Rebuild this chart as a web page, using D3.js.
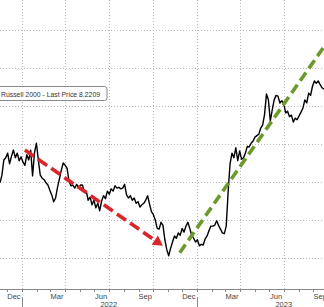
<!DOCTYPE html>
<html><head><meta charset="utf-8">
<script src="https://cdn.jsdelivr.net/npm/d3@7/dist/d3.min.js"></script>
<style>html,body{margin:0;padding:0;background:#fff;overflow:hidden}svg{display:block}</style>
</head><body>
<script>
// ---- data ----
const startDate = "2021-11-16";   // first observation
const stepDays = 4;               // spacing between observations
const values = [
6.99,7.09,7.29,7.32,7.38,7.24,7.34,7.42,7.32,7.38,7.28,7.33,7.26,7.22,7.36,7.29,7.42,7.08,7.39,7.51,
7.29,7.09,7.05,7.03,6.99,6.96,6.89,6.83,6.74,6.79,6.93,7.04,7.16,7.25,7.22,7.18,7.01,6.95,6.96,6.92,
6.97,6.92,6.96,6.96,6.87,6.88,6.76,6.80,6.70,6.76,6.66,6.72,6.62,6.75,6.82,6.78,6.88,6.84,6.91,6.88,
6.95,6.92,6.93,6.91,6.92,6.97,6.83,6.79,6.82,6.76,6.79,6.72,6.74,6.67,6.70,6.72,6.76,6.82,6.71,6.61,
6.57,6.50,6.39,6.38,6.47,6.43,6.24,6.11,6.03,6.13,6.21,6.29,6.26,6.33,6.30,6.39,6.34,6.42,6.47,6.39,
6.30,6.26,6.21,6.24,6.16,6.18,6.17,6.25,6.29,6.36,6.42,6.42,6.43,6.49,6.43,6.38,6.33,6.32,6.42,6.87,
7.24,7.38,7.32,7.45,7.28,7.41,7.30,7.32,7.38,7.47,7.46,7.51,7.54,7.59,7.61,7.63,7.71,7.75,7.89,8.16,
8.08,7.80,7.95,8.08,8.14,8.13,8.04,8.07,8.03,7.91,7.93,7.86,7.88,7.79,7.84,7.82,7.87,7.92,7.97,8.08,
8.04,8.17,8.14,8.26,8.33,8.30,8.33,8.28,8.24,8.2209
];
const yTicks = [6.0,6.5,7.0,7.5,8.0,8.5,9.0];
const monthLabels = ["Dec","Mar","Jun","Sep"];
const seriesName = "Russell 2000 - Last Price 8.2209";
const redArrow = [["2022-01-07",7.42],["2022-10-22",6.16]];
const greenLine = [["2022-11-26",6.07],["2023-09-23",8.78]];

// ---- setup ----
const W = 324, H = 307, axisY = 289;
const parse = d3.utcParse("%Y-%m-%d");
const t0 = parse(startDate);
const data = values.map((v,i)=>({date:d3.utcDay.offset(t0, i*stepDays), value:v}));
const x = d3.scaleUtc().domain([t0, data[data.length-1].date]).range([0, W]);
const y = d3.scaleLinear().domain([5.592, 9.395]).range([axisY, 0]);

const svg = d3.select("body").append("svg").attr("width",W).attr("height",H);
const font = "'Liberation Sans', Arial, sans-serif";

// gridlines
svg.append("g").selectAll("line").data(yTicks).join("line")
  .attr("x1",0).attr("x2",W).attr("y1",d=>Math.round(y(d))+0.5).attr("y2",d=>Math.round(y(d))+0.5)
  .attr("stroke","#b8b8b8").attr("stroke-width",1).attr("stroke-dasharray","1,2");
const quarters = d3.utcMonth.every(3).range(x.domain()[0], x.domain()[1]).filter(d=>d.getUTCMonth()%3===0);
svg.append("g").selectAll("line").data(quarters).join("line")
  .attr("x1",d=>Math.round(x(d))+0.5).attr("x2",d=>Math.round(x(d))+0.5).attr("y1",0).attr("y2",axisY)
  .attr("stroke","#b8b8b8").attr("stroke-width",1).attr("stroke-dasharray","1,2");

// axis
const months = d3.utcMonth.range(x.domain()[0], x.domain()[1]);
const gx = svg.append("g").attr("transform",`translate(0,${axisY})`);
gx.append("line").attr("x1",0).attr("x2",W).attr("y1",0.5).attr("y2",0.5).attr("stroke","#888");
gx.selectAll("line.mt").data(months).join("line").attr("class","mt")
  .attr("x1",d=>Math.round(x(d))+0.5).attr("x2",d=>Math.round(x(d))+0.5).attr("y1",0).attr("y2",3)
  .attr("stroke","#888");
const years = d3.utcYear.range(x.domain()[0], x.domain()[1]);
gx.selectAll("line.yt").data(years).join("line").attr("class","yt")
  .attr("x1",d=>Math.round(x(d))+0.5).attr("x2",d=>Math.round(x(d))+0.5).attr("y1",8).attr("y2",H-axisY)
  .attr("stroke","#888");
const labelMonths = months.filter(d=>monthLabels.includes(d3.utcFormat("%b")(d)));
gx.selectAll("text.ml").data(labelMonths).join("text").attr("class","ml")
  .attr("x",d=>x(d3.utcDay.offset(d,14))).attr("y",9.5).attr("text-anchor","middle")
  .attr("font-family",font).attr("font-size",7.5).attr("fill","#444")
  .text(d=>d3.utcFormat("%b")(d));
gx.selectAll("text.yl").data(years).join("text").attr("class","yl")
  .attr("x",d=>x(d3.utcMonth.offset(d,6))).attr("y",17.5).attr("text-anchor","middle")
  .attr("font-family",font).attr("font-size",7.5).attr("fill","#444")
  .text(d=>d3.utcFormat("%Y")(d));

// series line
svg.append("path").datum(data)
  .attr("d", d3.line().x(d=>x(d.date)).y(d=>y(d.value)))
  .attr("fill","none").attr("stroke","#000").attr("stroke-width",1.4).attr("stroke-linejoin","round");

// red dashed arrow
const rp = redArrow.map(([d,v])=>[x(parse(d)), y(v)]);
const dx = rp[1][0]-rp[0][0], dy = rp[1][1]-rp[0][1], L = Math.hypot(dx,dy);
const ux = dx/L, uy = dy/L, headL = 10, headW = 5.5;
const bx = rp[1][0]-ux*headL, by = rp[1][1]-uy*headL;
svg.append("line").attr("x1",rp[0][0]).attr("y1",rp[0][1]).attr("x2",bx+ux*1).attr("y2",by+uy*1)
  .attr("stroke","#d9262c").attr("stroke-width",3.6).attr("stroke-dasharray","11,5");
svg.append("path").attr("d",`M${rp[1][0]},${rp[1][1]}L${bx-uy*headW},${by+ux*headW}L${bx+uy*headW},${by-ux*headW}Z`)
  .attr("fill","#d9262c");

// green dashed trend line
const gp = greenLine.map(([d,v])=>[x(parse(d)), y(v)]);
svg.append("line").attr("x1",gp[0][0]).attr("y1",gp[0][1]).attr("x2",gp[1][0]).attr("y2",gp[1][1])
  .attr("stroke","#6b9a2b").attr("stroke-width",3.6).attr("stroke-dasharray","10,5");

// legend label box
const lg = svg.append("g");
lg.append("rect").attr("x",-6).attr("y",86.5).attr("width",113).attr("height",14).attr("rx",2.5)
  .attr("fill","#fff").attr("stroke","#8a8a8a").attr("stroke-width",1);
lg.append("text").attr("x",1).attr("y",96.5).attr("font-family",font).attr("font-size",7.6)
  .attr("fill","#333").attr("textLength",99).attr("lengthAdjust","spacingAndGlyphs").text(seriesName);
</script>
</body></html>
